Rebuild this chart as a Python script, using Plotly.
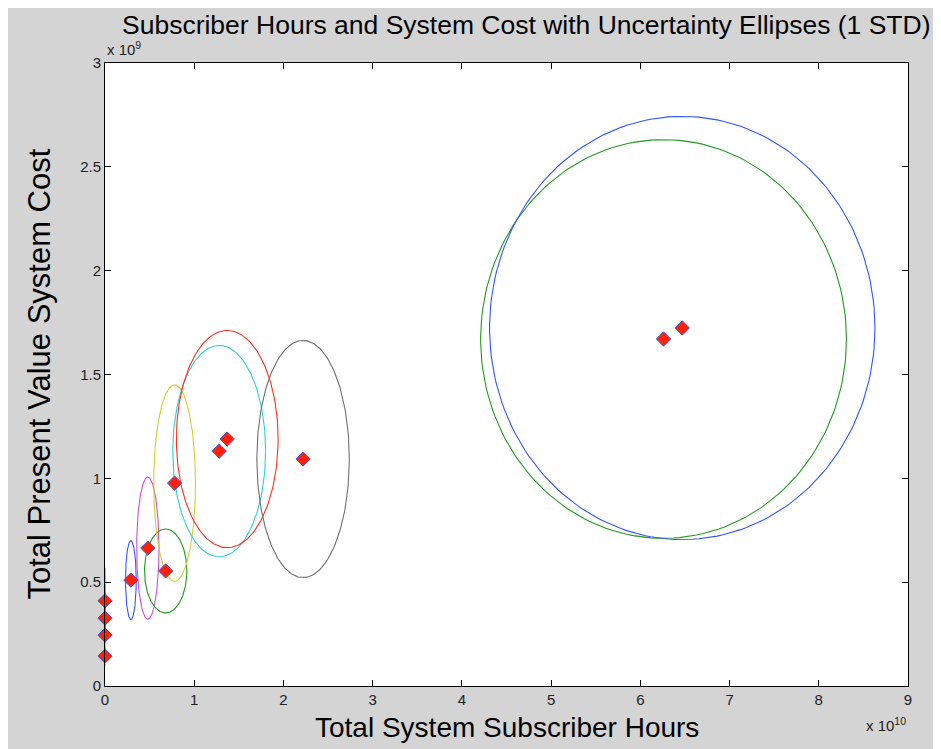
import numpy as np
import plotly.graph_objects as go

# Data (x in units of 1e10 hours, y in units of 1e9 cost)
hours = [0.0, 0.0, 0.0, 0.0, 0.29, 0.48, 0.68, 0.78, 1.28, 1.37, 2.22, 6.26, 6.47]
cost = [0.144, 0.245, 0.327, 0.41, 0.51, 0.664, 0.554, 0.977, 1.131, 1.189, 1.093, 1.671, 1.724]
hours_std = [0.004, 0.004, 0.004, 0.004, 0.06, 0.125, 0.237, 0.234, 0.52, 0.57, 0.518, 2.05, 2.16]
cost_std = [0.045, 0.07, 0.05, 0.16, 0.19, 0.342, 0.202, 0.473, 0.509, 0.523, 0.571, 0.96, 1.019]
ellipse_colors = ["#d0d030", "#30d0d0", "#ff3020", "#d050d0", "#3355ff", "#d050d0", "#229922",
                  "#d0d030", "#30d0d0", "#ff3020", "#707070", "#229922", "#3355ff"]

x_ticks = [0, 1, 2, 3, 4, 5, 6, 7, 8, 9]
x_ticktext = ["0", "1", "2", "3", "4", "5", "6", "7", "8", "9"]
y_ticks = [0, 0.5, 1, 1.5, 2, 2.5, 3]
y_ticktext = ["0", "0.5", "1", "1.5", "2", "2.5", "3"]

XS, YS = 1e10, 1e9

fig = go.Figure()
t = np.linspace(0, 2 * np.pi, 200)
for cx, cy, sx, sy, col in zip(hours, cost, hours_std, cost_std, ellipse_colors):
    fig.add_trace(go.Scatter(
        x=(cx + sx * np.cos(t)) * XS, y=(cy + sy * np.sin(t)) * YS,
        mode="lines", line=dict(color=col, width=1.1), hoverinfo="skip", showlegend=False))

fig.add_trace(go.Scatter(
    x=np.array(hours) * XS, y=np.array(cost) * YS, mode="markers",
    marker=dict(symbol="diamond", size=11, color="#ff2200", line=dict(color="#4455ee", width=1)),
    cliponaxis=False, showlegend=False))

font = "Liberation Sans, Arial, sans-serif"
axis_common = dict(showgrid=False, zeroline=False, showline=True, linecolor="black", linewidth=1,
                   ticks="inside", ticklen=6, tickcolor="black", mirror="ticks",
                   tickfont=dict(family=font, size=15, color="#222"))

fig.update_layout(
    width=941, height=749,
    paper_bgcolor="#d4d4d4", plot_bgcolor="white",
    margin=dict(l=97, r=41, t=55, b=71),
    xaxis=dict(range=[0, 9 * XS], tickvals=[v * XS for v in x_ticks], ticktext=x_ticktext, **axis_common),
    yaxis=dict(range=[0, 3 * YS], tickvals=[v * YS for v in y_ticks], ticktext=y_ticktext, **axis_common),
    annotations=[
        dict(text="Subscriber Hours and System Cost with Uncertainty Ellipses (1 STD)", xref="paper", yref="paper",
             x=0.5255, y=1, yshift=38, xanchor="center", yanchor="middle", showarrow=False,
             font=dict(family=font, size=26.5, color="black")),
        dict(text="Total System Subscriber Hours", xref="paper", yref="paper",
             x=0.5, y=0, yshift=-41, xanchor="center", yanchor="middle", showarrow=False,
             font=dict(family=font, size=28, color="black")),
        dict(text="Total Present Value System Cost", xref="paper", yref="paper", textangle=-90,
             x=0, xshift=-66, y=0.5, xanchor="center", yanchor="middle", showarrow=False,
             font=dict(family=font, size=31, color="black")),
        dict(text="x 10<sup>9</sup>", xref="paper", yref="paper", x=0, y=1, yshift=3, xanchor="left",
             yanchor="bottom", showarrow=False, font=dict(family=font, size=15, color="#222")),
        dict(text="x 10<sup>10</sup>", xref="paper", yref="paper", x=1, y=0, yshift=-27, xshift=0,
             xanchor="right", yanchor="top", showarrow=False, font=dict(family=font, size=15, color="#222")),
    ],
)

fig.write_html("out.html")
